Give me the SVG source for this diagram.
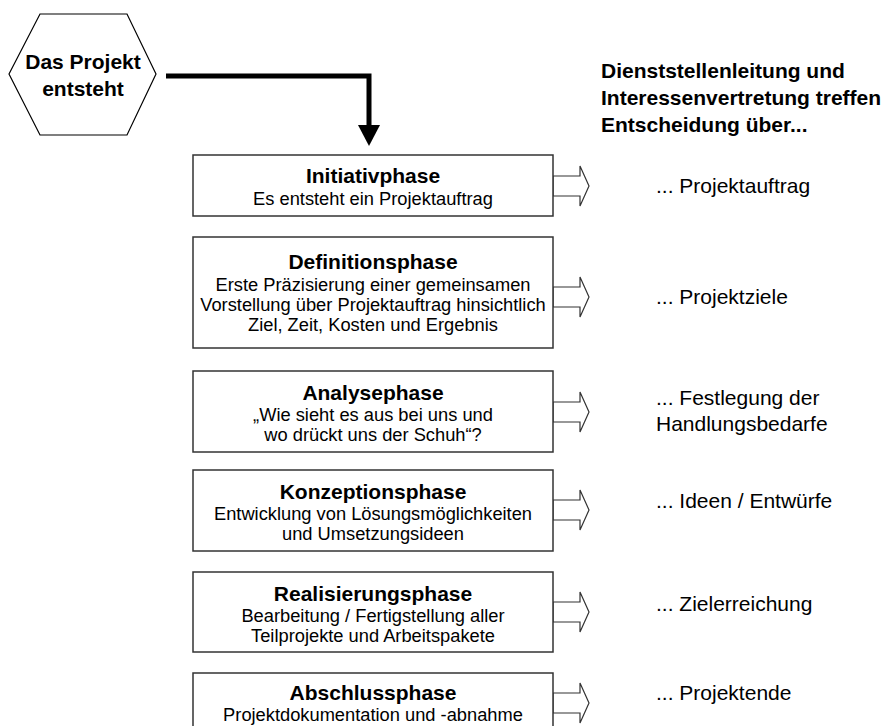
<svg xmlns="http://www.w3.org/2000/svg" width="889" height="726" viewBox="0 0 889 726">
<defs>
<style>
.box{fill:#fff;stroke:#333;stroke-width:1.5}
.arr{fill:#fff;stroke:#333;stroke-width:1.2;stroke-linejoin:miter}
.t{font-family:"Liberation Sans",Arial,sans-serif;font-weight:bold;font-size:21px;fill:#000;text-anchor:middle}
.s{font-family:"Liberation Sans",Arial,sans-serif;font-size:18.3px;fill:#000;text-anchor:middle}
.r{font-family:"Liberation Sans",Arial,sans-serif;font-size:21px;fill:#000}
.h{font-family:"Liberation Sans",Arial,sans-serif;font-weight:bold;font-size:21px;fill:#000}
</style>
</defs>
<rect width="889" height="726" fill="#fff"/>
<g id="start">
<polygon points="9,74 40,14 127,14 156,74 127,135 40,135" fill="#fff" stroke="#000" stroke-width="1.2"/>
<text class="t" x="83" y="69">Das Projekt</text>
<text class="t" x="83" y="96">entsteht</text>
</g>
<g id="connectors">
<polyline points="166,76 369,76 369,127" fill="none" stroke="#000" stroke-width="5"/>
<polygon points="358,125 380,125 369,146" fill="#000"/>
<polygon class="arr" points="553,176 580,176 580,166 589,186 580,206 580,196 553,196"/>
<polygon class="arr" points="553,287 580,287 580,277 589,297 580,317 580,307 553,307"/>
<polygon class="arr" points="553,402 580,402 580,392 589,412 580,432 580,422 553,422"/>
<polygon class="arr" points="553,500 580,500 580,490 589,510 580,530 580,520 553,520"/>
<polygon class="arr" points="553,602 580,602 580,592 589,612 580,632 580,622 553,622"/>
<polygon class="arr" points="553,693 580,693 580,683 589,703 580,723 580,713 553,713"/>
</g>
<g id="initiativ">
<rect class="box" x="193" y="155" width="360" height="61"/>
<text class="t" x="373" y="183">Initiativphase</text>
<text class="s" x="373" y="205">Es entsteht ein Projektauftrag</text>
</g>
<g id="definition">
<rect class="box" x="193" y="237" width="360" height="111"/>
<text class="t" x="373" y="269">Definitionsphase</text>
<text class="s" x="373" y="291">Erste Präzisierung einer gemeinsamen</text>
<text class="s" x="373" y="311">Vorstellung über Projektauftrag hinsichtlich</text>
<text class="s" x="373" y="331">Ziel, Zeit, Kosten und Ergebnis</text>
</g>
<g id="analyse">
<rect class="box" x="193" y="371" width="360" height="81"/>
<text class="t" x="373" y="400">Analysephase</text>
<text class="s" x="373" y="421">„Wie sieht es aus bei uns und</text>
<text class="s" x="373" y="441">wo drückt uns der Schuh“?</text>
</g>
<g id="konzeption">
<rect class="box" x="193" y="470" width="360" height="81"/>
<text class="t" x="373" y="499">Konzeptionsphase</text>
<text class="s" x="373" y="520">Entwicklung von Lösungsmöglichkeiten</text>
<text class="s" x="373" y="540">und Umsetzungsideen</text>
</g>
<g id="realisierung">
<rect class="box" x="193" y="572" width="360" height="80"/>
<text class="t" x="373" y="601">Realisierungsphase</text>
<text class="s" x="373" y="622">Bearbeitung / Fertigstellung aller</text>
<text class="s" x="373" y="642">Teilprojekte und Arbeitspakete</text>
</g>
<g id="abschluss">
<rect class="box" x="193" y="673" width="360" height="80"/>
<text class="t" x="373" y="700">Abschlussphase</text>
<text class="s" x="373" y="721">Projektdokumentation und -abnahme</text>
</g>
<g id="header">
<text class="h" x="601" y="78">Dienststellenleitung und</text>
<text class="h" x="601" y="105">Interessenvertretung treffen</text>
<text class="h" x="601" y="132">Entscheidung über...</text>
</g>
<g id="results">
<text class="r" x="656" y="193">... Projektauftrag</text>
<text class="r" x="656" y="304">... Projektziele</text>
<text class="r" x="656" y="405">... Festlegung der</text>
<text class="r" x="656" y="431">Handlungsbedarfe</text>
<text class="r" x="656" y="508">... Ideen / Entwürfe</text>
<text class="r" x="656" y="611">... Zielerreichung</text>
<text class="r" x="656" y="700">... Projektende</text>
</g>
</svg>
